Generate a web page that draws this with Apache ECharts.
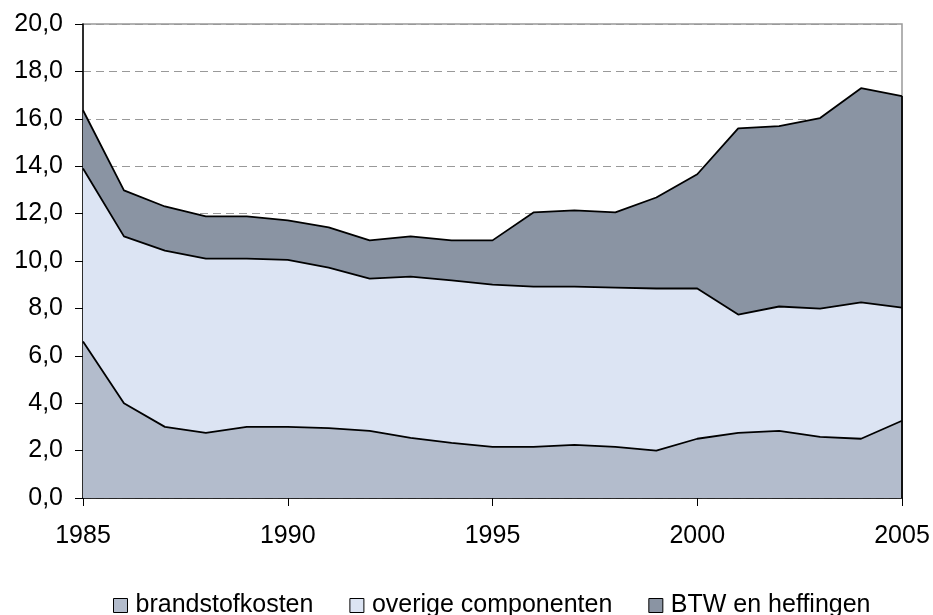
<!DOCTYPE html>
<html>
<head>
<meta charset="utf-8">
<script src="https://cdn.jsdelivr.net/npm/echarts@6/dist/echarts.min.js"></script>
<style>
  html, body { margin: 0; padding: 0; background: #fff; }
  #chart { width: 933px; height: 615px; }
</style>
</head>
<body>
<div id="chart"></div>
<script>
  // jaren en opbouw van de prijs (stapel: onder -> boven)
  var years = ['1985', '1986', '1987', '1988', '1989', '1990', '1991', '1992', '1993', '1994',
    '1995', '1996', '1997', '1998', '1999', '2000', '2001', '2002', '2003', '2004', '2005']
  var brandstofkosten = [6.6, 4.0, 3.0, 2.75, 3.0, 3.0, 2.95, 2.83, 2.54, 2.33,
    2.16, 2.16, 2.24, 2.16, 2.0, 2.5, 2.75, 2.83, 2.58, 2.5, 3.26]
  var overigeComponenten = [7.3, 7.04, 7.44, 7.35, 7.1, 7.05, 6.77, 6.43, 6.8, 6.85,
    6.84, 6.76, 6.68, 6.72, 6.84, 6.34, 4.99, 5.25, 5.41, 5.75, 4.77]
  var btwHeffingen = [2.46, 1.94, 1.86, 1.78, 1.78, 1.66, 1.7, 1.61, 1.7, 1.69,
    1.87, 3.13, 3.22, 3.17, 3.84, 4.82, 7.86, 7.61, 8.04, 9.04, 8.93]
  var seriesNames = ['brandstofkosten', 'overige componenten', 'BTW en heffingen']
  var seriesColors = ['#b3bccc', '#dce4f3', '#8a94a3']

  var font = 'Liberation Sans, Arial, sans-serif'

  function areaSeries(name, data, color) {
    return {
      name: name,
      type: 'line',
      stack: 'prijs',
      data: data,
      symbol: 'none',
      silent: true,
      itemStyle: { color: color, borderColor: '#000', borderWidth: 1 },
      lineStyle: { color: '#000', width: 1.8 },
      areaStyle: { color: color, opacity: 1 }
    }
  }

  // rechter rand van de vlakken (zoals in Excel)
  var last = years.length - 1
  var totalLast = brandstofkosten[last] + overigeComponenten[last] + btwHeffingen[last]
  var btwSeries = areaSeries(seriesNames[2], btwHeffingen, seriesColors[2])
  btwSeries.markLine = {
    silent: true,
    symbol: 'none',
    label: { show: false },
    lineStyle: { color: '#000', width: 1.8, type: 'solid' },
    data: [[{ coord: [years[last], 0] }, { coord: [years[last], totalLast] }]]
  }

  var chart = echarts.init(document.getElementById('chart'))
  chart.setOption({
    animation: false,
    grid: {
      left: 83,
      right: 31,
      top: 24,
      bottom: 117,
      show: true,
      borderColor: '#999',
      borderWidth: 1.5
    },
    legend: {
      data: seriesNames.map(function (n) { return { name: n, icon: 'rect' } }),
      left: 108,
      top: 588,
      itemWidth: 14,
      itemHeight: 14,
      itemGap: 36,
      itemStyle: { borderColor: '#000', borderWidth: 1 },
      lineStyle: { width: 0 },
      textStyle: { fontFamily: font, fontSize: 25, color: '#000', padding: [0, 0, 0, 3] }
    },
    xAxis: {
      type: 'category',
      data: years,
      boundaryGap: false,
      axisLine: { lineStyle: { color: '#000', width: 1.5 } },
      axisTick: { interval: 4, length: 8, lineStyle: { color: '#000' } },
      axisLabel: { interval: 4, margin: 26, fontFamily: font, fontSize: 25, color: '#000' },
      splitLine: { show: false }
    },
    yAxis: {
      type: 'value',
      min: 0,
      max: 20,
      interval: 2,
      axisLine: { show: true, lineStyle: { color: '#000', width: 1.5 } },
      axisTick: { show: true, length: 8, lineStyle: { color: '#000' } },
      axisLabel: {
        margin: 20,
        fontFamily: font,
        fontSize: 25,
        color: '#000',
        formatter: function (v) { return v.toFixed(1).replace('.', ',') }
      },
      splitLine: { lineStyle: { color: '#999', type: [8, 5], width: 1 } }
    },
    series: [
      areaSeries(seriesNames[0], brandstofkosten, seriesColors[0]),
      areaSeries(seriesNames[1], overigeComponenten, seriesColors[1]),
      btwSeries
    ]
  })
</script>
</body>
</html>
